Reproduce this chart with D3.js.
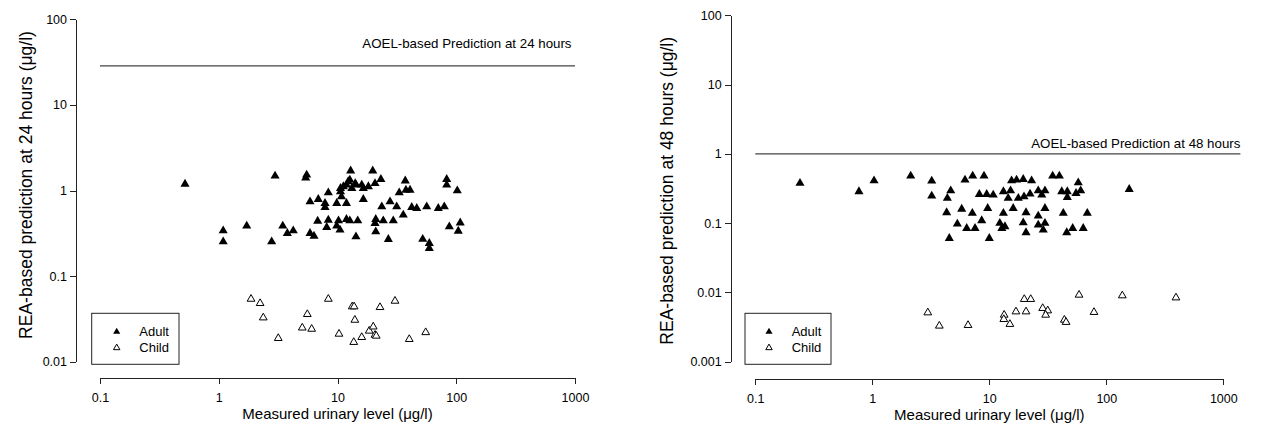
<!DOCTYPE html>
<html>
<head>
<meta charset="utf-8">
<script src="https://cdn.jsdelivr.net/npm/d3@7"></script>
<style>
  html, body { margin: 0; padding: 0; background: #fff; }
  svg { display: block; font-family: "Liberation Sans", Arial, sans-serif; }
  .axis path, .axis line { stroke: #222; stroke-width: 1; shape-rendering: crispEdges; }
  .axis text { font-size: 12.5px; fill: #000; font-family: "Liberation Sans", Arial, sans-serif; }
</style>
</head>
<body>
<svg id="chart" width="1266" height="439"></svg>
<script>
// ---- 24-hour predictions: measured urinary level vs REA-based prediction (µg/l)
const adult24Measured = [0.52, 1.09, 1.09, 1.72, 2.79, 2.98, 3.46, 3.78, 4.24, 5.5, 5.4, 5.87, 6.89, 7.85, 7.85, 8.37, 6.81, 8.37, 8.11, 10.2, 9.85, 10.5, 11.9, 12.7, 14.8, 5.87, 6.34, 10.6, 11.9, 9.85, 11.2, 12.3, 13.2, 14.3, 16.0, 16.5, 18.2, 20.7, 12.9, 19.8, 23.2, 37.2, 83.1, 83.1, 102, 10.8, 11.9, 16.5, 33.1, 37.7, 40.8, 23.6, 27.7, 31.5, 42.2, 46.5, 56.4, 70.6, 79.3, 35.8, 21.0, 20.7, 24.3, 29.5, 14.3, 21.0, 26.8, 52.2, 59.3, 59.3, 87.4, 104, 108, 12.7, 10.6, 14.1];
const adult24Predicted = [1.19, 0.339, 0.252, 0.385, 0.252, 1.48, 0.385, 0.316, 0.339, 1.52, 1.40, 0.74, 0.79, 0.708, 0.636, 0.942, 0.44, 0.452, 0.372, 0.444, 0.385, 0.346, 0.461, 0.444, 0.444, 0.316, 0.294, 1.06, 1.16, 0.708, 1.11, 1.27, 1.06, 1.16, 1.16, 1.06, 1.11, 1.21, 1.70, 1.70, 1.35, 1.30, 1.35, 1.16, 0.995, 0.847, 0.708, 0.79, 0.942, 1.01, 1.01, 0.647, 0.74, 0.647, 0.636, 0.62, 0.647, 0.62, 0.647, 0.518, 0.461, 0.414, 0.444, 0.444, 0.289, 0.33, 0.269, 0.27, 0.242, 0.211, 0.378, 0.336, 0.42, 1.33, 0.97, 1.21];
const child24Measured = [1.87, 2.23, 2.37, 3.17, 5.05, 5.57, 6.06, 8.37, 10.3, 13.3, 13.8, 14.0, 13.7, 16.0, 18.5, 20.0, 20.7, 21.2, 22.8, 30.5, 40.2, 55.3];
const child24Predicted = [0.054, 0.0481, 0.0327, 0.0188, 0.0249, 0.0358, 0.0241, 0.054, 0.0211, 0.044, 0.044, 0.0307, 0.0169, 0.0193, 0.0229, 0.0256, 0.0205, 0.0200, 0.0432, 0.0512, 0.0183, 0.022];
const aoel24 = 28.5;
const aoel24Span = [0.1, 1000];

// ---- 48-hour predictions
const adult48Measured = [0.241, 0.769, 1.035, 2.13, 3.22, 3.22, 4.68, 4.38, 4.32, 5.81, 7.16, 5.33, 6.41, 7.55, 8.61, 9.69, 4.55, 10.0, 6.2, 7.21, 9.01, 8.22, 9.5, 10.8, 13.2, 15.2, 14.5, 13.2, 12.3, 12.8, 13.6, 16.0, 15.5, 17.1, 19.5, 23.0, 34.8, 39.7, 57.6, 60.4, 157, 17.7, 19.8, 22.3, 26.2, 29.9, 28.1, 41.6, 46.4, 55.1, 46.4, 20.6, 26.2, 29.9, 42.9, 68.8, 19.5, 20.6, 26.2, 29.9, 28.9, 45.9, 51.6, 63.5];
const adult48Predicted = [0.377, 0.285, 0.41, 0.48, 0.406, 0.247, 0.294, 0.229, 0.142, 0.160, 0.139, 0.0973, 0.0844, 0.0844, 0.1087, 0.164, 0.0605, 0.0605, 0.42, 0.48, 0.48, 0.261, 0.261, 0.255, 0.285, 0.294, 0.229, 0.139, 0.0997, 0.0844, 0.0891, 0.164, 0.41, 0.42, 0.43, 0.41, 0.48, 0.48, 0.384, 0.294, 0.308, 0.229, 0.241, 0.264, 0.294, 0.294, 0.255, 0.285, 0.285, 0.27, 0.236, 0.142, 0.127, 0.164, 0.139, 0.139, 0.1016, 0.073, 0.0942, 0.0997, 0.0798, 0.073, 0.0844, 0.0844];
const child48Measured = [2.98, 3.74, 6.58, 13.4, 13.3, 15.0, 16.9, 19.9, 22.6, 20.6, 28.6, 31.6, 30.3, 43.8, 45.3, 58.5, 78.5, 137, 394];
const child48Predicted = [0.00511, 0.00329, 0.00336, 0.00473, 0.0041, 0.00348, 0.00528, 0.00798, 0.00798, 0.00528, 0.00591, 0.00546, 0.00473, 0.00401, 0.00372, 0.0092, 0.00518, 0.009, 0.0084];
const aoel48 = 1.0;
const aoel48Span = [0.1, 1400];

// ---- tick values and labels
const xTicks = [0.1, 1, 10, 100, 1000];
const xTickLabels = ["0.1", "1", "10", "100", "1000"];
const y24Ticks = [0.01, 0.1, 1, 10, 100];
const y24TickLabels = ["0.01", "0.1", "1", "10", "100"];
const y48Ticks = [0.001, 0.01, 0.1, 1, 10, 100];
const y48TickLabels = ["0.001", "0.01", "0.1", "1", "10", "100"];

const legendLabels = ["Adult", "Child"];

const svg = d3.select("#chart");

function zip(xs, ys) { return xs.map((x, i) => ({ x, y: ys[i] })); }

function drawPanel(cfg) {
  const x = d3.scaleLog().domain([0.1, 1000]).range([cfg.x0, cfg.x1]);
  const y = d3.scaleLog().domain(cfg.yDomain).range([cfg.yBottom, cfg.yTop]);
  const g = svg.append("g");

  // x axis (detached below the plot region)
  g.append("g").attr("class", "axis")
    .attr("transform", `translate(0,${cfg.xAxisY})`)
    .call(d3.axisBottom(x).tickValues(xTicks)
      .tickFormat((d, i) => xTickLabels[i]).tickSize(6).tickSizeOuter(0).tickPadding(9.5));

  // y axis (detached left of the plot region)
  g.append("g").attr("class", "axis")
    .attr("transform", `translate(${cfg.yAxisX},0)`)
    .call(d3.axisLeft(y).tickValues(cfg.yTicks)
      .tickFormat((d, i) => cfg.yTickLabels[i]).tickSize(6).tickSizeOuter(0).tickPadding(3));

  // axis titles
  g.append("text")
    .attr("x", (cfg.x0 + cfg.x1) / 2).attr("y", cfg.xTitleY)
    .attr("text-anchor", "middle").style("font-size", "15px")
    .text("Measured urinary level (\u03BCg/l)");
  g.append("text")
    .attr("transform", `translate(${cfg.yTitleX},${cfg.yTitleMid}) rotate(-90)`)
    .attr("text-anchor", "middle").style("font-size", "17.5px")
    .text(cfg.yTitle);

  // AOEL reference line and its label
  g.append("line")
    .attr("x1", x(cfg.aoelSpan[0])).attr("x2", x(cfg.aoelSpan[1]))
    .attr("y1", y(cfg.aoel)).attr("y2", y(cfg.aoel))
    .attr("stroke", "#444").attr("stroke-width", 1.2);
  g.append("text")
    .attr("x", x(cfg.aoelSpan[1]) - cfg.aoelLabelInset)
    .attr("y", y(cfg.aoel) - cfg.aoelLabelGap)
    .attr("text-anchor", "end").style("font-size", "13.3px")
    .text(cfg.aoelLabel);

  const tri = d3.symbol().type(d3.symbolTriangle);

  // child: open triangles
  g.append("g").selectAll("path")
    .data(zip(cfg.childX, cfg.childY)).join("path")
    .attr("transform", d => `translate(${x(d.x)},${y(d.y)})`)
    .attr("d", tri.size(26)())
    .attr("fill", "#fff").attr("stroke", "#000").attr("stroke-width", 1);

  // adult: filled triangles
  g.append("g").selectAll("path")
    .data(zip(cfg.adultX, cfg.adultY)).join("path")
    .attr("transform", d => `translate(${x(d.x)},${y(d.y)})`)
    .attr("d", tri.size(36)())
    .attr("fill", "#000");

  // legend
  const lg = g.append("g").attr("transform", `translate(${cfg.legendX},${cfg.legendY})`);
  lg.append("rect").attr("width", cfg.legendW).attr("height", 51)
    .attr("fill", "#fff").attr("stroke", "#222").attr("stroke-width", 1);
  legendLabels.forEach((lab, i) => {
    const cy = 18.5 + i * 16;
    lg.append("path")
      .attr("transform", `translate(${cfg.legendSymX},${cy})`)
      .attr("d", d3.symbol().type(d3.symbolTriangle).size(i === 0 ? 22 : 18)())
      .attr("fill", i === 0 ? "#000" : "#fff")
      .attr("stroke", i === 0 ? "none" : "#000").attr("stroke-width", 1);
    lg.append("text").attr("x", cfg.legendTextX).attr("y", cy + 4.5)
      .style("font-size", "13px").text(lab);
  });
}

drawPanel({
  x0: 100, x1: 575, yDomain: [0.01, 100], yBottom: 361.7, yTop: 19.3,
  xAxisY: 378, yAxisX: 76, xTitleY: 419, yTitleX: 31.5, yTitleMid: 185,
  yTicks: y24Ticks, yTickLabels: y24TickLabels,
  yTitle: "REA-based prediction at 24 hours (\u03BCg/l)",
  aoel: aoel24, aoelSpan: aoel24Span, aoelLabelGap: 17.7, aoelLabelInset: 3.5,
  aoelLabel: "AOEL-based Prediction at 24 hours",
  adultX: adult24Measured, adultY: adult24Predicted,
  childX: child24Measured, childY: child24Predicted,
  legendX: 91.7, legendY: 313.3, legendW: 87.3, legendSymX: 25, legendTextX: 47.6
});

drawPanel({
  x0: 755.3, x1: 1223.3, yDomain: [0.001, 100], yBottom: 361.7, yTop: 15.3,
  xAxisY: 379, yAxisX: 730.7, xTitleY: 419.5, yTitleX: 673.3, yTitleMid: 190.8,
  yTicks: y48Ticks, yTickLabels: y48TickLabels,
  yTitle: "REA-based prediction at 48 hours (\u03BCg/l)",
  aoel: aoel48, aoelSpan: aoel48Span, aoelLabelGap: 6.3, aoelLabelInset: 0,
  aoelLabel: "AOEL-based Prediction at 48 hours",
  adultX: adult48Measured, adultY: adult48Predicted,
  childX: child48Measured, childY: child48Predicted,
  legendX: 745, legendY: 313.3, legendW: 86, legendSymX: 24, legendTextX: 46.7
});
</script>
</body>
</html>
